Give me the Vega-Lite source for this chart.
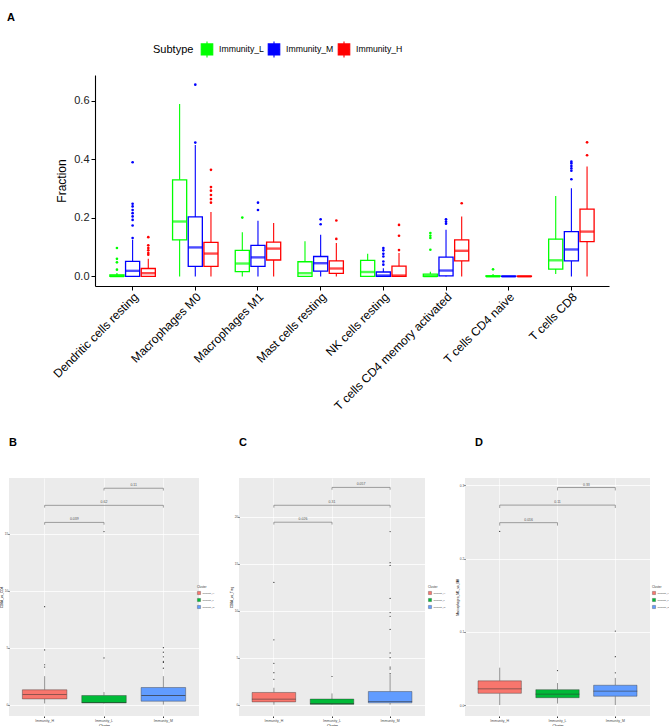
{
  "$schema": "https://vega.github.io/schema/vega-lite/v6.json",
  "background": "white",
  "padding": {"left": -1, "top": 12, "right": 0, "bottom": 0},
  "config": {
    "font": "Liberation Sans",
    "view": {"stroke": null},
    "title": {"fontSize": 11, "fontWeight": "bold", "color": "black", "anchor": "start", "font": "Liberation Sans"},
    "axis": {"labelFont": "Liberation Sans", "titleFont": "Liberation Sans", "titleFontWeight": "normal"},
    "legend": {"titleFontWeight": "normal", "labelFont": "Liberation Sans", "titleFont": "Liberation Sans"}
  },
  "datasets": {
    "boxesA": [
      {"cell": "Dendritic cells resting", "subtype": "Immunity_L", "lower": 0, "q1": 0, "median": 0.001, "q3": 0.005, "upper": 0.012},
      {"cell": "Dendritic cells resting", "subtype": "Immunity_M", "lower": 0, "q1": 0, "median": 0.019, "q3": 0.051, "upper": 0.125},
      {"cell": "Dendritic cells resting", "subtype": "Immunity_H", "lower": 0, "q1": 0, "median": 0.011, "q3": 0.027, "upper": 0.06},
      {"cell": "Macrophages M0", "subtype": "Immunity_L", "lower": 0, "q1": 0.125, "median": 0.1875, "q3": 0.33, "upper": 0.589},
      {"cell": "Macrophages M0", "subtype": "Immunity_M", "lower": 0, "q1": 0.034, "median": 0.099, "q3": 0.203, "upper": 0.449},
      {"cell": "Macrophages M0", "subtype": "Immunity_H", "lower": 0, "q1": 0.034, "median": 0.078, "q3": 0.116, "upper": 0.22},
      {"cell": "Macrophages M1", "subtype": "Immunity_L", "lower": 0, "q1": 0.016, "median": 0.044, "q3": 0.089, "upper": 0.151},
      {"cell": "Macrophages M1", "subtype": "Immunity_M", "lower": 0, "q1": 0.034, "median": 0.065, "q3": 0.106, "upper": 0.19},
      {"cell": "Macrophages M1", "subtype": "Immunity_H", "lower": 0, "q1": 0.056, "median": 0.095, "q3": 0.117, "upper": 0.182},
      {"cell": "Mast cells resting", "subtype": "Immunity_L", "lower": 0, "q1": 0, "median": 0.011, "q3": 0.05, "upper": 0.12},
      {"cell": "Mast cells resting", "subtype": "Immunity_M", "lower": 0, "q1": 0.018, "median": 0.045, "q3": 0.068, "upper": 0.142},
      {"cell": "Mast cells resting", "subtype": "Immunity_H", "lower": 0, "q1": 0.01, "median": 0.027, "q3": 0.053, "upper": 0.114},
      {"cell": "NK cells resting", "subtype": "Immunity_L", "lower": 0, "q1": 0, "median": 0.015, "q3": 0.055, "upper": 0.077},
      {"cell": "NK cells resting", "subtype": "Immunity_M", "lower": 0, "q1": 0, "median": 0.003, "q3": 0.015, "upper": 0.028},
      {"cell": "NK cells resting", "subtype": "Immunity_H", "lower": 0, "q1": 0, "median": 0.003, "q3": 0.035, "upper": 0.08},
      {"cell": "T cells CD4 memory activated", "subtype": "Immunity_L", "lower": 0, "q1": 0, "median": 0.001, "q3": 0.008, "upper": 0.016},
      {"cell": "T cells CD4 memory activated", "subtype": "Immunity_M", "lower": 0, "q1": 0.002, "median": 0.02, "q3": 0.066, "upper": 0.159},
      {"cell": "T cells CD4 memory activated", "subtype": "Immunity_H", "lower": 0, "q1": 0.053, "median": 0.0875, "q3": 0.125, "upper": 0.205},
      {"cell": "T cells CD4 naive", "subtype": "Immunity_L", "lower": 0, "q1": 0, "median": 0, "q3": 0.002, "upper": 0.008},
      {"cell": "T cells CD4 naive", "subtype": "Immunity_M", "lower": 0, "q1": 0, "median": 0, "q3": 0.001, "upper": 0.001},
      {"cell": "T cells CD4 naive", "subtype": "Immunity_H", "lower": 0, "q1": 0, "median": 0, "q3": 0.001, "upper": 0.001},
      {"cell": "T cells CD8", "subtype": "Immunity_L", "lower": 0.008, "q1": 0.025, "median": 0.055, "q3": 0.127, "upper": 0.275},
      {"cell": "T cells CD8", "subtype": "Immunity_M", "lower": 0, "q1": 0.053, "median": 0.092, "q3": 0.153, "upper": 0.301},
      {"cell": "T cells CD8", "subtype": "Immunity_H", "lower": 0, "q1": 0.119, "median": 0.153, "q3": 0.23, "upper": 0.375}
    ],
    "outA": [
      {"cell": "Dendritic cells resting", "subtype": "Immunity_L", "value": 0.097},
      {"cell": "Dendritic cells resting", "subtype": "Immunity_L", "value": 0.06},
      {"cell": "Dendritic cells resting", "subtype": "Immunity_L", "value": 0.048},
      {"cell": "Dendritic cells resting", "subtype": "Immunity_L", "value": 0.023},
      {"cell": "Dendritic cells resting", "subtype": "Immunity_M", "value": 0.131},
      {"cell": "Dendritic cells resting", "subtype": "Immunity_M", "value": 0.174},
      {"cell": "Dendritic cells resting", "subtype": "Immunity_M", "value": 0.193},
      {"cell": "Dendritic cells resting", "subtype": "Immunity_M", "value": 0.205},
      {"cell": "Dendritic cells resting", "subtype": "Immunity_M", "value": 0.216},
      {"cell": "Dendritic cells resting", "subtype": "Immunity_M", "value": 0.227},
      {"cell": "Dendritic cells resting", "subtype": "Immunity_M", "value": 0.239},
      {"cell": "Dendritic cells resting", "subtype": "Immunity_M", "value": 0.248},
      {"cell": "Dendritic cells resting", "subtype": "Immunity_M", "value": 0.39},
      {"cell": "Dendritic cells resting", "subtype": "Immunity_H", "value": 0.074},
      {"cell": "Dendritic cells resting", "subtype": "Immunity_H", "value": 0.08},
      {"cell": "Dendritic cells resting", "subtype": "Immunity_H", "value": 0.089},
      {"cell": "Dendritic cells resting", "subtype": "Immunity_H", "value": 0.097},
      {"cell": "Dendritic cells resting", "subtype": "Immunity_H", "value": 0.106},
      {"cell": "Dendritic cells resting", "subtype": "Immunity_H", "value": 0.134},
      {"cell": "Macrophages M0", "subtype": "Immunity_M", "value": 0.457},
      {"cell": "Macrophages M0", "subtype": "Immunity_M", "value": 0.655},
      {"cell": "Macrophages M0", "subtype": "Immunity_H", "value": 0.252},
      {"cell": "Macrophages M0", "subtype": "Immunity_H", "value": 0.264},
      {"cell": "Macrophages M0", "subtype": "Immunity_H", "value": 0.278},
      {"cell": "Macrophages M0", "subtype": "Immunity_H", "value": 0.293},
      {"cell": "Macrophages M0", "subtype": "Immunity_H", "value": 0.305},
      {"cell": "Macrophages M0", "subtype": "Immunity_H", "value": 0.364},
      {"cell": "Macrophages M1", "subtype": "Immunity_L", "value": 0.201},
      {"cell": "Macrophages M1", "subtype": "Immunity_M", "value": 0.227},
      {"cell": "Macrophages M1", "subtype": "Immunity_M", "value": 0.252},
      {"cell": "Mast cells resting", "subtype": "Immunity_M", "value": 0.178},
      {"cell": "Mast cells resting", "subtype": "Immunity_M", "value": 0.195},
      {"cell": "Mast cells resting", "subtype": "Immunity_H", "value": 0.128},
      {"cell": "Mast cells resting", "subtype": "Immunity_H", "value": 0.191},
      {"cell": "NK cells resting", "subtype": "Immunity_M", "value": 0.04},
      {"cell": "NK cells resting", "subtype": "Immunity_M", "value": 0.051},
      {"cell": "NK cells resting", "subtype": "Immunity_M", "value": 0.068},
      {"cell": "NK cells resting", "subtype": "Immunity_M", "value": 0.077},
      {"cell": "NK cells resting", "subtype": "Immunity_M", "value": 0.089},
      {"cell": "NK cells resting", "subtype": "Immunity_M", "value": 0.097},
      {"cell": "NK cells resting", "subtype": "Immunity_H", "value": 0.09},
      {"cell": "NK cells resting", "subtype": "Immunity_H", "value": 0.139},
      {"cell": "NK cells resting", "subtype": "Immunity_H", "value": 0.176},
      {"cell": "T cells CD4 memory activated", "subtype": "Immunity_L", "value": 0.091},
      {"cell": "T cells CD4 memory activated", "subtype": "Immunity_L", "value": 0.131},
      {"cell": "T cells CD4 memory activated", "subtype": "Immunity_L", "value": 0.139},
      {"cell": "T cells CD4 memory activated", "subtype": "Immunity_L", "value": 0.148},
      {"cell": "T cells CD4 memory activated", "subtype": "Immunity_M", "value": 0.18},
      {"cell": "T cells CD4 memory activated", "subtype": "Immunity_M", "value": 0.187},
      {"cell": "T cells CD4 memory activated", "subtype": "Immunity_M", "value": 0.195},
      {"cell": "T cells CD4 memory activated", "subtype": "Immunity_H", "value": 0.25},
      {"cell": "T cells CD4 naive", "subtype": "Immunity_L", "value": 0.024},
      {"cell": "T cells CD8", "subtype": "Immunity_M", "value": 0.332},
      {"cell": "T cells CD8", "subtype": "Immunity_M", "value": 0.361},
      {"cell": "T cells CD8", "subtype": "Immunity_M", "value": 0.369},
      {"cell": "T cells CD8", "subtype": "Immunity_M", "value": 0.377},
      {"cell": "T cells CD8", "subtype": "Immunity_M", "value": 0.386},
      {"cell": "T cells CD8", "subtype": "Immunity_M", "value": 0.392},
      {"cell": "T cells CD8", "subtype": "Immunity_H", "value": 0.414},
      {"cell": "T cells CD8", "subtype": "Immunity_H", "value": 0.458}
    ],
    "statsBot": [
      {"panel": "B", "group": "Immunity_H", "lower": 0.1, "q1": 0.5, "median": 0.9, "q3": 1.3, "upper": 2.5},
      {"panel": "B", "group": "Immunity_L", "lower": 0.1, "q1": 0.15, "median": 0.2, "q3": 0.8, "upper": 1.1},
      {"panel": "B", "group": "Immunity_M", "lower": 0, "q1": 0.3, "median": 0.8, "q3": 1.5, "upper": 2.5},
      {"panel": "C", "group": "Immunity_H", "lower": 0, "q1": 0.3, "median": 0.6, "q3": 1.3, "upper": 1.8},
      {"panel": "C", "group": "Immunity_L", "lower": 0, "q1": 0.05, "median": 0.1, "q3": 0.6, "upper": 1.2},
      {"panel": "C", "group": "Immunity_M", "lower": 0, "q1": 0.2, "median": 0.35, "q3": 1.4, "upper": 3.2},
      {"panel": "D", "group": "Immunity_H", "lower": 0, "q1": 0.016, "median": 0.022, "q3": 0.033, "upper": 0.051},
      {"panel": "D", "group": "Immunity_L", "lower": 0.002, "q1": 0.01, "median": 0.015, "q3": 0.021, "upper": 0.03},
      {"panel": "D", "group": "Immunity_M", "lower": 0, "q1": 0.012, "median": 0.019, "q3": 0.027, "upper": 0.037}
    ],
    "outBot": [
      {"panel": "B", "group": "Immunity_H", "value": 3.3},
      {"panel": "B", "group": "Immunity_H", "value": 3.5},
      {"panel": "B", "group": "Immunity_H", "value": 4.8},
      {"panel": "B", "group": "Immunity_H", "value": 8.6},
      {"panel": "B", "group": "Immunity_L", "value": 4.1},
      {"panel": "B", "group": "Immunity_L", "value": 15.2},
      {"panel": "B", "group": "Immunity_M", "value": 3.2},
      {"panel": "B", "group": "Immunity_M", "value": 3.7},
      {"panel": "B", "group": "Immunity_M", "value": 3.8},
      {"panel": "B", "group": "Immunity_M", "value": 4.2},
      {"panel": "B", "group": "Immunity_M", "value": 4.6},
      {"panel": "B", "group": "Immunity_M", "value": 5.0},
      {"panel": "C", "group": "Immunity_H", "value": 2.7},
      {"panel": "C", "group": "Immunity_H", "value": 3.4},
      {"panel": "C", "group": "Immunity_H", "value": 4.4},
      {"panel": "C", "group": "Immunity_H", "value": 6.9},
      {"panel": "C", "group": "Immunity_H", "value": 13.0},
      {"panel": "C", "group": "Immunity_L", "value": 3.0},
      {"panel": "C", "group": "Immunity_M", "value": 3.3},
      {"panel": "C", "group": "Immunity_M", "value": 3.8},
      {"panel": "C", "group": "Immunity_M", "value": 4.0},
      {"panel": "C", "group": "Immunity_M", "value": 5.0},
      {"panel": "C", "group": "Immunity_M", "value": 5.5},
      {"panel": "C", "group": "Immunity_M", "value": 8.0},
      {"panel": "C", "group": "Immunity_M", "value": 9.4},
      {"panel": "C", "group": "Immunity_M", "value": 9.8},
      {"panel": "C", "group": "Immunity_M", "value": 11.3},
      {"panel": "C", "group": "Immunity_M", "value": 14.8},
      {"panel": "C", "group": "Immunity_M", "value": 15.1},
      {"panel": "C", "group": "Immunity_M", "value": 18.4},
      {"panel": "D", "group": "Immunity_H", "value": 0.237},
      {"panel": "D", "group": "Immunity_L", "value": 0.047},
      {"panel": "D", "group": "Immunity_M", "value": 0.044},
      {"panel": "D", "group": "Immunity_M", "value": 0.066},
      {"panel": "D", "group": "Immunity_M", "value": 0.101}
    ],
    "brackets": [
      {"panel": "B", "from": "Immunity_H", "to": "Immunity_L", "y": 16.0, "ytip": 15.8, "label": "0.039"},
      {"panel": "B", "from": "Immunity_H", "to": "Immunity_M", "y": 17.5, "ytip": 17.3, "label": "0.62"},
      {"panel": "B", "from": "Immunity_L", "to": "Immunity_M", "y": 19.0, "ytip": 18.8, "label": "0.11"},
      {"panel": "C", "from": "Immunity_H", "to": "Immunity_L", "y": 19.4, "ytip": 19.15, "label": "0.026"},
      {"panel": "C", "from": "Immunity_H", "to": "Immunity_M", "y": 21.2, "ytip": 20.95, "label": "0.31"},
      {"panel": "C", "from": "Immunity_L", "to": "Immunity_M", "y": 23.1, "ytip": 22.85, "label": "0.057"},
      {"panel": "D", "from": "Immunity_H", "to": "Immunity_L", "y": 0.249, "ytip": 0.245, "label": "0.016"},
      {"panel": "D", "from": "Immunity_H", "to": "Immunity_M", "y": 0.273, "ytip": 0.269, "label": "0.11"},
      {"panel": "D", "from": "Immunity_L", "to": "Immunity_M", "y": 0.297, "ytip": 0.293, "label": "0.33"}
    ]
  },
  "bounds": "flush",
  "spacing": 403,
  "resolve": {"scale": {"x": "independent", "y": "independent", "color": "independent", "fill": "independent"}},
  "vconcat": [
    {
      "bounds": "flush",
      "spacing": 0,
      "hconcat": [
        {"width": 86, "height": 211, "data": {"values": [{"t": ""}]}, "mark": {"type": "text"}, "encoding": {"text": {"field": "t"}}},
        {
          "width": 514,
          "height": 211,
          "title": {"text": "A", "frame": "group", "dx": -88, "offset": 52},
          "encoding": {
            "x": {"field": "cell", "type": "nominal", "title": null,
              "scale": {"domain": ["Dendritic cells resting", "Macrophages M0", "Macrophages M1", "Mast cells resting", "NK cells resting", "T cells CD4 memory activated", "T cells CD4 naive", "T cells CD8"], "paddingInner": 0.25, "paddingOuter": 0.225},
              "axis": {"labelAngle": -45, "labelAlign": "right", "labelBaseline": "top", "labelFontSize": 12, "labelColor": "black", "labelPadding": 1, "tickSize": 4, "tickColor": "black", "domainColor": "black", "domainWidth": 1.1, "grid": false, "labelLimit": 300}},
            "xOffset": {"field": "subtype", "type": "nominal", "scale": {"domain": ["Immunity_L", "Immunity_M", "Immunity_H"], "paddingInner": 0.1, "paddingOuter": 0.05}}
          },
          "layer": [
            {"data": {"name": "boxesA"}, "mark": {"type": "rule", "strokeWidth": 1.1},
              "encoding": {"y": {"field": "lower", "type": "quantitative", "title": "Fraction", "scale": {"domain": [-0.0328, 0.688], "nice": false, "zero": false},
                "axis": {"values": [0, 0.2, 0.4, 0.6], "format": ".1f", "grid": false, "labelFontSize": 11, "labelColor": "#222", "tickSize": 4, "tickColor": "black", "domainColor": "black", "domainWidth": 1.1, "labelPadding": 2, "titleFontSize": 12, "titlePadding": 5, "titleColor": "black"}},
                "y2": {"field": "q1"},
                "color": {"field": "subtype", "type": "nominal",
                  "scale": {"domain": ["Immunity_L", "Immunity_M", "Immunity_H"], "range": ["#00FF00", "#0000FF", "#FF0000"]},
                  "legend": {"orient": "none", "legendX": 144, "legendY": -35, "direction": "horizontal", "title": "Subtype", "titleOrient": "left", "titleFontSize": 11, "titleColor": "black", "titlePadding": 4, "labelFontSize": 8.7, "labelColor": "black", "labelOffset": 3, "columnPadding": 1,
                    "symbolType": "M-0.72,-0.69H0.72V0.69H-0.72Z M-0.72,0H0.72 M0,-0.69V-1 M0,0.69V1", "symbolSize": 256, "symbolStrokeWidth": 1.1, "symbolFillColor": "white",
                    "encode": {"symbols": {"update": {"fill": {"value": "white"}, "strokeWidth": {"value": 1.1}}}}}}}},
            {"data": {"name": "boxesA"}, "mark": {"type": "rule", "strokeWidth": 1.1},
              "encoding": {"y": {"field": "q3", "type": "quantitative", "title": "Fraction"}, "y2": {"field": "upper"},
                "color": {"field": "subtype", "type": "nominal"}}},
            {"data": {"name": "boxesA"}, "mark": {"type": "bar", "filled": false, "strokeWidth": 1.3},
              "encoding": {"y": {"field": "q1", "type": "quantitative", "title": "Fraction"}, "y2": {"field": "q3"},
                "color": {"field": "subtype", "type": "nominal"}}},
            {"data": {"name": "boxesA"}, "mark": {"type": "tick", "thickness": 2.4, "size": 14},
              "encoding": {"y": {"field": "median", "type": "quantitative", "title": "Fraction"},
                "fill": {"field": "subtype", "type": "nominal", "scale": {"domain": ["Immunity_L", "Immunity_M", "Immunity_H"], "range": ["#00FF00", "#0000FF", "#FF0000"]}, "legend": null}}},
            {"data": {"name": "outA"}, "mark": {"type": "circle", "size": 7, "opacity": 1},
              "encoding": {"y": {"field": "value", "type": "quantitative", "title": "Fraction"},
                "fill": {"field": "subtype", "type": "nominal", "legend": null}}}
          ]
        }
      ]
    },
    {
      "bounds": "flush",
      "spacing": 40,
      "resolve": {"scale": {"x": "independent", "y": "independent", "fill": "independent"}},
      "hconcat": [
        {
          "width": 190, "height": 238,
          "view": {"fill": "#EBEBEB", "stroke": null},
          "title": {"text": "B", "frame": "group", "offset": 30},
          "encoding": {"x": {"field": "group", "type": "nominal", "title": "Cluster",
            "scale": {"domain": ["Immunity_H", "Immunity_L", "Immunity_M"], "paddingInner": 0.25, "paddingOuter": 0.225},
            "axis": {"labelAngle": 0, "labelFontSize": 3.5, "labelColor": "#4d4d4d", "titleFontSize": 3.5, "titleColor": "black", "labelPadding": 1, "titlePadding": 1, "tickSize": 1.5, "tickColor": "#333", "domain": false, "grid": true, "gridColor": "white", "gridWidth": 0.6}}},
          "layer": [
            {"data": {"name": "statsBot"}, "transform": [{"filter": "datum.panel == 'B'"}], "mark": {"type": "rule", "color": "#333", "strokeWidth": 0.5},
              "encoding": {"y": {"field": "lower", "type": "quantitative", "title": "CD8A_vs_CD4", "scale": {"domain": [-1.0, 19.9], "nice": false, "zero": false},
                "axis": {"values": [0, 2.5, 5, 7.5, 10, 12.5, 15, 17.5], "labelExpr": "datum.value % 5 == 0 ? datum.label : ''", "grid": true, "gridColor": "white", "gridWidth": {"condition": {"test": "datum.value % 5 == 0", "value": 0.8}, "value": 0.4}, "tickOpacity": {"condition": {"test": "datum.value % 5 == 0", "value": 1}, "value": 0}, "domain": false, "tickColor": "#333", "tickSize": 1, "labelFontSize": 3.2, "labelColor": "#4d4d4d", "labelPadding": 0.3, "titleFontSize": 3.2, "titlePadding": 0.3, "titleColor": "black"}},
                "y2": {"field": "q1"}}},
            {"data": {"name": "statsBot"}, "transform": [{"filter": "datum.panel == 'B'"}], "mark": {"type": "rule", "color": "#333", "strokeWidth": 0.5},
              "encoding": {"y": {"field": "q3", "type": "quantitative", "title": "CD8A_vs_CD4"}, "y2": {"field": "upper"}}},
            {"data": {"name": "statsBot"}, "transform": [{"filter": "datum.panel == 'B'"}], "mark": {"type": "bar", "stroke": "#333", "strokeWidth": 0.4},
              "encoding": {"y": {"field": "q1", "type": "quantitative", "title": "CD8A_vs_CD4"}, "y2": {"field": "q3"},
                "fill": {"field": "group", "type": "nominal", "scale": {"domain": ["Immunity_H", "Immunity_L", "Immunity_M"], "range": ["#F8766D", "#00BA38", "#619CFF"]},
                  "legend": {"orient": "none", "legendX": 188, "legendY": 108, "title": "Cluster", "titleFontSize": 3, "titleColor": "#333", "labelFontSize": 2.2, "labelColor": "#333", "symbolType": "square", "symbolSize": 10, "symbolStrokeColor": "#333", "symbolStrokeWidth": 0.3, "rowPadding": 1, "labelOffset": 1.5, "titlePadding": 2}}}},
            {"data": {"name": "statsBot"}, "transform": [{"filter": "datum.panel == 'B'"}], "mark": {"type": "tick", "color": "#333", "thickness": 0.8, "size": 44},
              "encoding": {"y": {"field": "median", "type": "quantitative", "title": "CD8A_vs_CD4"}}},
            {"data": {"name": "outBot"}, "transform": [{"filter": "datum.panel == 'B'"}], "mark": {"type": "circle", "color": "#333", "size": 1.5, "opacity": 1},
              "encoding": {"y": {"field": "value", "type": "quantitative", "title": "CD8A_vs_CD4"}}},
            {"data": {"name": "brackets"}, "transform": [{"filter": "datum.panel == 'B'"}], "mark": {"type": "rule", "color": "#7a7a7a", "strokeWidth": 0.7},
              "encoding": {"x": {"field": "from", "type": "nominal", "title": "Cluster"}, "x2": {"field": "to"}, "y": {"field": "y", "type": "quantitative", "title": "CD8A_vs_CD4"}}},
            {"data": {"name": "brackets"}, "transform": [{"filter": "datum.panel == 'B'"}], "mark": {"type": "rule", "color": "#7a7a7a", "strokeWidth": 0.7},
              "encoding": {"x": {"field": "from", "type": "nominal", "title": "Cluster"}, "y": {"field": "ytip", "type": "quantitative", "title": "CD8A_vs_CD4"}, "y2": {"field": "y"}}},
            {"data": {"name": "brackets"}, "transform": [{"filter": "datum.panel == 'B'"}], "mark": {"type": "rule", "color": "#7a7a7a", "strokeWidth": 0.7},
              "encoding": {"x": {"field": "to", "type": "nominal", "title": "Cluster"}, "y": {"field": "ytip", "type": "quantitative", "title": "CD8A_vs_CD4"}, "y2": {"field": "y"}}},
            {"data": {"name": "brackets"}, "transform": [{"filter": "datum.panel == 'B' && !(datum.from == 'Immunity_H' && datum.to == 'Immunity_M')"}], "mark": {"type": "text", "fontSize": 3.5, "color": "#555", "baseline": "bottom", "dy": -1},
              "encoding": {"x": {"field": "from", "type": "nominal", "title": "Cluster", "bandPosition": 1.1667}, "y": {"field": "y", "type": "quantitative", "title": "CD8A_vs_CD4"}, "text": {"field": "label"}}},
            {"data": {"name": "brackets"}, "transform": [{"filter": "datum.panel == 'B' && datum.from == 'Immunity_H' && datum.to == 'Immunity_M'"}], "mark": {"type": "text", "fontSize": 3.5, "color": "#555", "baseline": "bottom", "dy": -1},
              "encoding": {"x": {"field": "from", "type": "nominal", "title": "Cluster", "bandPosition": 1.8333}, "y": {"field": "y", "type": "quantitative", "title": "CD8A_vs_CD4"}, "text": {"field": "label"}}}
          ]
        },
        {
          "width": 186, "height": 238,
          "view": {"fill": "#EBEBEB", "stroke": null},
          "title": {"text": "C", "frame": "group", "offset": 30},
          "encoding": {"x": {"field": "group", "type": "nominal", "title": "Cluster",
            "scale": {"domain": ["Immunity_H", "Immunity_L", "Immunity_M"], "paddingInner": 0.25, "paddingOuter": 0.225},
            "axis": {"labelAngle": 0, "labelFontSize": 3.5, "labelColor": "#4d4d4d", "titleFontSize": 3.5, "titleColor": "black", "labelPadding": 1, "titlePadding": 1, "tickSize": 1.5, "tickColor": "#333", "domain": false, "grid": true, "gridColor": "white", "gridWidth": 0.6}}},
          "layer": [
            {"data": {"name": "statsBot"}, "transform": [{"filter": "datum.panel == 'C'"}], "mark": {"type": "rule", "color": "#333", "strokeWidth": 0.5},
              "encoding": {"y": {"field": "lower", "type": "quantitative", "title": "CD8A_vs_Treg", "scale": {"domain": [-1.2, 24.1], "nice": false, "zero": false},
                "axis": {"values": [0, 2.5, 5, 7.5, 10, 12.5, 15, 17.5, 20, 22.5], "labelExpr": "datum.value % 5 == 0 ? datum.label : ''", "grid": true, "gridColor": "white", "gridWidth": {"condition": {"test": "datum.value % 5 == 0", "value": 0.8}, "value": 0.4}, "tickOpacity": {"condition": {"test": "datum.value % 5 == 0", "value": 1}, "value": 0}, "domain": false, "tickColor": "#333", "tickSize": 1, "labelFontSize": 3.2, "labelColor": "#4d4d4d", "labelPadding": 0.3, "titleFontSize": 3.2, "titlePadding": 0.3, "titleColor": "black"}},
                "y2": {"field": "q1"}}},
            {"data": {"name": "statsBot"}, "transform": [{"filter": "datum.panel == 'C'"}], "mark": {"type": "rule", "color": "#333", "strokeWidth": 0.5},
              "encoding": {"y": {"field": "q3", "type": "quantitative", "title": "CD8A_vs_Treg"}, "y2": {"field": "upper"}}},
            {"data": {"name": "statsBot"}, "transform": [{"filter": "datum.panel == 'C'"}], "mark": {"type": "bar", "stroke": "#333", "strokeWidth": 0.4},
              "encoding": {"y": {"field": "q1", "type": "quantitative", "title": "CD8A_vs_Treg"}, "y2": {"field": "q3"},
                "fill": {"field": "group", "type": "nominal", "scale": {"domain": ["Immunity_H", "Immunity_L", "Immunity_M"], "range": ["#F8766D", "#00BA38", "#619CFF"]},
                  "legend": {"orient": "none", "legendX": 189, "legendY": 108, "title": "Cluster", "titleFontSize": 3, "titleColor": "#333", "labelFontSize": 2.2, "labelColor": "#333", "symbolType": "square", "symbolSize": 10, "symbolStrokeColor": "#333", "symbolStrokeWidth": 0.3, "rowPadding": 1, "labelOffset": 1.5, "titlePadding": 2}}}},
            {"data": {"name": "statsBot"}, "transform": [{"filter": "datum.panel == 'C'"}], "mark": {"type": "tick", "color": "#333", "thickness": 0.8, "size": 44},
              "encoding": {"y": {"field": "median", "type": "quantitative", "title": "CD8A_vs_Treg"}}},
            {"data": {"name": "outBot"}, "transform": [{"filter": "datum.panel == 'C'"}], "mark": {"type": "circle", "color": "#333", "size": 1.5, "opacity": 1},
              "encoding": {"y": {"field": "value", "type": "quantitative", "title": "CD8A_vs_Treg"}}},
            {"data": {"name": "brackets"}, "transform": [{"filter": "datum.panel == 'C'"}], "mark": {"type": "rule", "color": "#7a7a7a", "strokeWidth": 0.7},
              "encoding": {"x": {"field": "from", "type": "nominal", "title": "Cluster"}, "x2": {"field": "to"}, "y": {"field": "y", "type": "quantitative", "title": "CD8A_vs_Treg"}}},
            {"data": {"name": "brackets"}, "transform": [{"filter": "datum.panel == 'C'"}], "mark": {"type": "rule", "color": "#7a7a7a", "strokeWidth": 0.7},
              "encoding": {"x": {"field": "from", "type": "nominal", "title": "Cluster"}, "y": {"field": "ytip", "type": "quantitative", "title": "CD8A_vs_Treg"}, "y2": {"field": "y"}}},
            {"data": {"name": "brackets"}, "transform": [{"filter": "datum.panel == 'C'"}], "mark": {"type": "rule", "color": "#7a7a7a", "strokeWidth": 0.7},
              "encoding": {"x": {"field": "to", "type": "nominal", "title": "Cluster"}, "y": {"field": "ytip", "type": "quantitative", "title": "CD8A_vs_Treg"}, "y2": {"field": "y"}}},
            {"data": {"name": "brackets"}, "transform": [{"filter": "datum.panel == 'C' && !(datum.from == 'Immunity_H' && datum.to == 'Immunity_M')"}], "mark": {"type": "text", "fontSize": 3.5, "color": "#555", "baseline": "bottom", "dy": -1},
              "encoding": {"x": {"field": "from", "type": "nominal", "title": "Cluster", "bandPosition": 1.1667}, "y": {"field": "y", "type": "quantitative", "title": "CD8A_vs_Treg"}, "text": {"field": "label"}}},
            {"data": {"name": "brackets"}, "transform": [{"filter": "datum.panel == 'C' && datum.from == 'Immunity_H' && datum.to == 'Immunity_M'"}], "mark": {"type": "text", "fontSize": 3.5, "color": "#555", "baseline": "bottom", "dy": -1},
              "encoding": {"x": {"field": "from", "type": "nominal", "title": "Cluster", "bandPosition": 1.8333}, "y": {"field": "y", "type": "quantitative", "title": "CD8A_vs_Treg"}, "text": {"field": "label"}}}
          ]
        },
        {
          "width": 185, "height": 238,
          "view": {"fill": "#EBEBEB", "stroke": null},
          "title": {"text": "D", "frame": "group", "offset": 30, "dx": 10},
          "encoding": {"x": {"field": "group", "type": "nominal", "title": "Cluster",
            "scale": {"domain": ["Immunity_H", "Immunity_L", "Immunity_M"], "paddingInner": 0.25, "paddingOuter": 0.225},
            "axis": {"labelAngle": 0, "labelFontSize": 3.5, "labelColor": "#4d4d4d", "titleFontSize": 3.5, "titleColor": "black", "labelPadding": 1, "titlePadding": 1, "tickSize": 1.5, "tickColor": "#333", "domain": false, "grid": true, "gridColor": "white", "gridWidth": 0.6}}},
          "layer": [
            {"data": {"name": "statsBot"}, "transform": [{"filter": "datum.panel == 'D'"}], "mark": {"type": "rule", "color": "#333", "strokeWidth": 0.5},
              "encoding": {"y": {"field": "lower", "type": "quantitative", "title": "Macrophages_M1_vs_M0", "scale": {"domain": [-0.015, 0.31], "nice": false, "zero": false},
                "axis": {"values": [0, 0.05, 0.1, 0.15, 0.2, 0.25, 0.3], "format": ".1f", "labelExpr": "abs(datum.value * 10 - round(datum.value * 10)) < 0.001 ? datum.label : ''", "grid": true, "gridColor": "white", "gridWidth": {"condition": {"test": "abs(datum.value * 10 - round(datum.value * 10)) < 0.001", "value": 0.8}, "value": 0.4}, "tickOpacity": {"condition": {"test": "abs(datum.value * 10 - round(datum.value * 10)) < 0.001", "value": 1}, "value": 0}, "domain": false, "tickColor": "#333", "tickSize": 1, "labelFontSize": 3.2, "labelColor": "#4d4d4d", "labelPadding": 0.3, "titleFontSize": 3.2, "titlePadding": 0.3, "titleColor": "black"}},
                "y2": {"field": "q1"}}},
            {"data": {"name": "statsBot"}, "transform": [{"filter": "datum.panel == 'D'"}], "mark": {"type": "rule", "color": "#333", "strokeWidth": 0.5},
              "encoding": {"y": {"field": "q3", "type": "quantitative", "title": "Macrophages_M1_vs_M0"}, "y2": {"field": "upper"}}},
            {"data": {"name": "statsBot"}, "transform": [{"filter": "datum.panel == 'D'"}], "mark": {"type": "bar", "stroke": "#333", "strokeWidth": 0.4},
              "encoding": {"y": {"field": "q1", "type": "quantitative", "title": "Macrophages_M1_vs_M0"}, "y2": {"field": "q3"},
                "fill": {"field": "group", "type": "nominal", "scale": {"domain": ["Immunity_H", "Immunity_L", "Immunity_M"], "range": ["#F8766D", "#00BA38", "#619CFF"]},
                  "legend": {"orient": "none", "legendX": 187, "legendY": 108, "title": "Cluster", "titleFontSize": 3, "titleColor": "#333", "labelFontSize": 2.2, "labelColor": "#333", "symbolType": "square", "symbolSize": 10, "symbolStrokeColor": "#333", "symbolStrokeWidth": 0.3, "rowPadding": 1, "labelOffset": 1.5, "titlePadding": 2}}}},
            {"data": {"name": "statsBot"}, "transform": [{"filter": "datum.panel == 'D'"}], "mark": {"type": "tick", "color": "#333", "thickness": 0.8, "size": 44},
              "encoding": {"y": {"field": "median", "type": "quantitative", "title": "Macrophages_M1_vs_M0"}}},
            {"data": {"name": "outBot"}, "transform": [{"filter": "datum.panel == 'D'"}], "mark": {"type": "circle", "color": "#333", "size": 1.5, "opacity": 1},
              "encoding": {"y": {"field": "value", "type": "quantitative", "title": "Macrophages_M1_vs_M0"}}},
            {"data": {"name": "brackets"}, "transform": [{"filter": "datum.panel == 'D'"}], "mark": {"type": "rule", "color": "#7a7a7a", "strokeWidth": 0.7},
              "encoding": {"x": {"field": "from", "type": "nominal", "title": "Cluster"}, "x2": {"field": "to"}, "y": {"field": "y", "type": "quantitative", "title": "Macrophages_M1_vs_M0"}}},
            {"data": {"name": "brackets"}, "transform": [{"filter": "datum.panel == 'D'"}], "mark": {"type": "rule", "color": "#7a7a7a", "strokeWidth": 0.7},
              "encoding": {"x": {"field": "from", "type": "nominal", "title": "Cluster"}, "y": {"field": "ytip", "type": "quantitative", "title": "Macrophages_M1_vs_M0"}, "y2": {"field": "y"}}},
            {"data": {"name": "brackets"}, "transform": [{"filter": "datum.panel == 'D'"}], "mark": {"type": "rule", "color": "#7a7a7a", "strokeWidth": 0.7},
              "encoding": {"x": {"field": "to", "type": "nominal", "title": "Cluster"}, "y": {"field": "ytip", "type": "quantitative", "title": "Macrophages_M1_vs_M0"}, "y2": {"field": "y"}}},
            {"data": {"name": "brackets"}, "transform": [{"filter": "datum.panel == 'D' && !(datum.from == 'Immunity_H' && datum.to == 'Immunity_M')"}], "mark": {"type": "text", "fontSize": 3.5, "color": "#555", "baseline": "bottom", "dy": -1},
              "encoding": {"x": {"field": "from", "type": "nominal", "title": "Cluster", "bandPosition": 1.1667}, "y": {"field": "y", "type": "quantitative", "title": "Macrophages_M1_vs_M0"}, "text": {"field": "label"}}},
            {"data": {"name": "brackets"}, "transform": [{"filter": "datum.panel == 'D' && datum.from == 'Immunity_H' && datum.to == 'Immunity_M'"}], "mark": {"type": "text", "fontSize": 3.5, "color": "#555", "baseline": "bottom", "dy": -1},
              "encoding": {"x": {"field": "from", "type": "nominal", "title": "Cluster", "bandPosition": 1.8333}, "y": {"field": "y", "type": "quantitative", "title": "Macrophages_M1_vs_M0"}, "text": {"field": "label"}}}
          ]
        }
      ]
    }
  ]
}
